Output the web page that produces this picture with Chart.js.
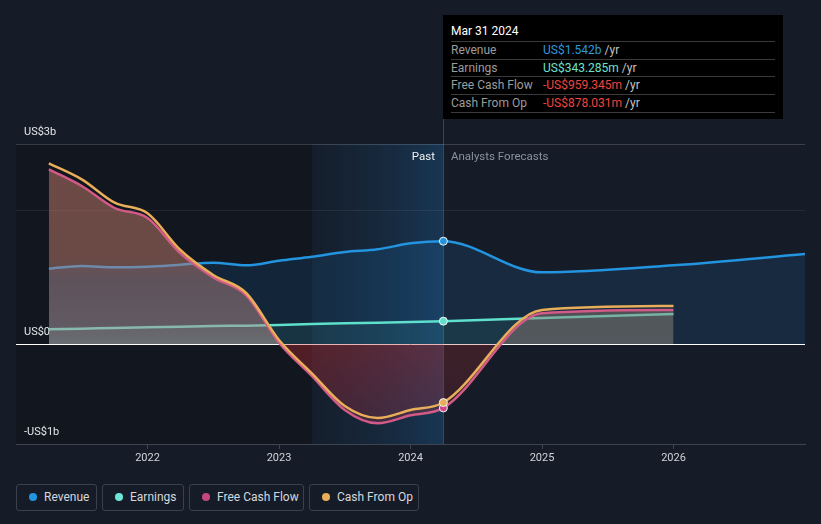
<!DOCTYPE html>
<html>
<head>
<meta charset="utf-8">
<script src="https://cdn.jsdelivr.net/npm/chart.js@4.4.1/dist/chart.umd.min.js"></script>
<style>
  body { margin: 0; background: #161c27; font-family: Roboto, "Noto Sans", sans-serif; }
  #wrap { position: relative; width: 821px; height: 524px; overflow: hidden; }
  #chart { position: absolute; left: 0; top: 0; }
  .tip { position: absolute; left: 443px; top: 15px; width: 340px; height: 104px; background: #000; }
  .tip .title { position: absolute; left: 8px; top: 8px; font-size: 12px; line-height: 16px; color: #fff; }
  .tip .row { position: absolute; left: 8px; width: 324px; height: 17px; border-top: 1px solid #3a3a3a; font-size: 12px; line-height: 17px; color: #9c9c9c; }
  .tip .row.last { border-bottom: 1px solid #3a3a3a; }
  .tip .row span.v { position: absolute; left: 92px; }
  .tip .row span.u { color: #c4c4c4; }
  .period { position: absolute; top: 148px; font-size: 11.5px; line-height: 16px; }
  .legend { position: absolute; left: 16px; top: 484px; display: flex; gap: 5px; }
  .legend div { box-sizing: border-box; height: 27px; border: 1px solid #3a404c; border-radius: 3px; font-size: 12px; line-height: 25px; color: #d4d8de; padding-left: 27px; position: relative; }
  .legend div i { position: absolute; left: 12px; top: 8px; width: 8px; height: 8px; border-radius: 50%; }
</style>
</head>
<body>
<div id="wrap">
  <canvas id="chart" width="821" height="475"></canvas>
  <div class="period" style="right:386px;color:#eef0f2;">Past</div>
  <div class="period" style="left:451px;color:#8b929c;">Analysts Forecasts</div>
  <div class="tip">
    <div class="title">Mar 31 2024</div>
    <div class="row" style="top:26px;">Revenue<span class="v"><span style="color:#2b98de;">US$1.542b</span> <span class="u">/yr</span></span></div>
    <div class="row" style="top:43.5px;">Earnings<span class="v"><span style="color:#6fe2cd;">US$343.285m</span> <span class="u">/yr</span></span></div>
    <div class="row" style="top:61px;">Free Cash Flow<span class="v"><span style="color:#f0443f;">-US$959.345m</span> <span class="u">/yr</span></span></div>
    <div class="row last" style="top:78.5px;">Cash From Op<span class="v"><span style="color:#f0443f;">-US$878.031m</span> <span class="u">/yr</span></span></div>
  </div>
  <div class="legend">
    <div style="width:81px;"><i style="background:#2394df;"></i>Revenue</div>
    <div style="width:82px;"><i style="background:#6ee6d5;"></i>Earnings</div>
    <div style="width:115px;"><i style="background:#c4487f;"></i>Free Cash Flow</div>
    <div style="width:110px;"><i style="background:#e8ae5a;"></i>Cash From Op</div>
  </div>
</div>
<script>
// values in US$ billions, dates as decimal years
const pastDates = [2021.25, 2021.5, 2021.75, 2022, 2022.25, 2022.5, 2022.75, 2023, 2023.25, 2023.5, 2023.75, 2024, 2024.25];
const forecastDates = [2025, 2026];
const revenueForecastDates = [2025, 2026, 2027];

const revenuePast = [1.13, 1.17, 1.15, 1.16, 1.19, 1.22, 1.18, 1.25, 1.31, 1.38, 1.42, 1.51, 1.542];
const revenueForecast = [1.075, 1.18, 1.35];
const earningsPast = [0.22, 0.23, 0.24, 0.25, 0.26, 0.27, 0.275, 0.285, 0.30, 0.31, 0.32, 0.33, 0.343];
const earningsForecast = [0.39, 0.45];
const fcfPast = [2.62, 2.37, 2.04, 1.89, 1.36, 1.0, 0.73, 0.02, -0.48, -0.99, -1.19, -1.07, -0.959];
const fcfForecast = [0.46, 0.51];
const cfoPast = [2.71, 2.47, 2.12, 1.96, 1.41, 1.035, 0.765, 0.06, -0.44, -0.93, -1.11, -0.99, -0.878];
const cfoForecast = [0.51, 0.57];

const yearTicks = [2022, 2023, 2024, 2025, 2026];
const yTickValues = [-1.5, 0, 2, 3];
const yTickLabels = ['-US$1b', 'US$0', '', 'US$3b'];

const pastStart = 2023.25;   // start of the highlighted "Past" band
const latest = 2024.25;      // Mar 31 2024
const tipBottom = 119;

function toPoints(dates, vals) {
  return dates.map((d, i) => ({ x: d, y: vals[i] }));
}

function vGrad(chart, stops) {
  const { ctx, chartArea, scales } = chart;
  if (!chartArea || !scales.y) return stops[0][1];
  const y = scales.y;
  const t = y.getPixelForValue(y.max), b = y.getPixelForValue(y.min);
  const g = ctx.createLinearGradient(0, t, 0, b);
  stops.forEach(([v, c]) => g.addColorStop(Math.min(1, Math.max(0, (y.getPixelForValue(v) - t) / (b - t))), c));
  return g;
}

const pastFill = [
  [3, 'rgba(202,124,108,0.5)'], [1.3, 'rgba(196,126,110,0.5)'], [0.95, 'rgba(170,128,126,0.5)'],
  [0.3, 'rgba(176,142,140,0.5)'], [0, 'rgba(186,166,160,0.5)'],
  [0, 'rgba(200,45,50,0.36)'], [-1.5, 'rgba(190,50,80,0.22)']
];
const futureFill = [
  [3, 'rgba(150,122,108,0.45)'], [0, 'rgba(150,126,116,0.45)'],
  [0, 'rgba(175,45,50,0.26)'], [-1.5, 'rgba(175,45,50,0.16)']
];

const markerRadius = ctx => (ctx.raw && ctx.raw.x === latest ? 4 : 0);

const backdrop = {
  id: 'backdrop',
  beforeDraw(chart) {
    const { ctx, chartArea: a, scales: { x } } = chart;
    const xs = x.getPixelForValue(pastStart), xl = x.getPixelForValue(latest);
    ctx.save();
    ctx.fillStyle = 'rgba(0,0,0,0.2)';
    ctx.fillRect(a.left, a.top, xs - a.left, a.bottom - a.top);
    const g = ctx.createLinearGradient(xs, 0, xl, 0);
    g.addColorStop(0, 'rgba(20,90,150,0.04)');
    g.addColorStop(1, 'rgba(30,125,200,0.27)');
    ctx.fillStyle = g;
    ctx.fillRect(xs, a.top, xl - xs, a.bottom - a.top);
    ctx.restore();
  },
  beforeDatasetsDraw(chart) {
    const { ctx, chartArea: a, scales: { x } } = chart;
    const xl = Math.round(x.getPixelForValue(latest)) + 0.5;
    ctx.save();
    ctx.strokeStyle = 'rgba(120,140,165,0.35)';
    ctx.lineWidth = 1;
    ctx.beginPath();
    ctx.moveTo(xl, tipBottom);
    ctx.lineTo(xl, a.bottom);
    ctx.stroke();
    ctx.restore();
  }
};

new Chart(document.getElementById('chart'), {
  type: 'line',
  data: {
    datasets: [
      {
        label: 'Cash From Op',
        data: toPoints(pastDates.concat(forecastDates), cfoPast.concat(cfoForecast)),
        borderColor: '#e8ae5a',
        borderWidth: 2.5,
        fill: false,
        pointRadius: markerRadius,
        pointBackgroundColor: '#e8ae5a',
        pointBorderColor: '#f4f4f4',
        pointBorderWidth: 1,
        order: 0
      },
      {
        label: 'Free Cash Flow',
        data: toPoints(pastDates.concat(forecastDates), fcfPast.concat(fcfForecast)),
        borderColor: '#d25a86',
        borderWidth: 2.5,
        fill: 'origin',
        backgroundColor: ctx => vGrad(ctx.chart, pastFill),
        segment: {
          backgroundColor: ctx => (ctx.p0.parsed.x >= latest ? vGrad(ctx.chart, futureFill) : undefined)
        },
        pointRadius: markerRadius,
        pointBackgroundColor: '#c8488a',
        pointBorderColor: '#f4f4f4',
        pointBorderWidth: 1,
        order: 1
      },
      {
        label: 'Earnings',
        data: toPoints(pastDates.concat(forecastDates), earningsPast.concat(earningsForecast)),
        borderColor: '#5ee0cc',
        borderWidth: 2.5,
        fill: 'origin',
        backgroundColor: 'rgba(94,224,204,0.08)',
        pointRadius: markerRadius,
        pointBackgroundColor: '#5ee0cc',
        pointBorderColor: '#f4f4f4',
        pointBorderWidth: 1,
        order: 2
      },
      {
        label: 'Revenue',
        data: toPoints(pastDates.concat(revenueForecastDates), revenuePast.concat(revenueForecast)),
        borderColor: '#2394df',
        borderWidth: 2.5,
        fill: 'origin',
        backgroundColor: 'rgba(35,150,235,0.12)',
        pointRadius: markerRadius,
        pointBackgroundColor: '#2394df',
        pointBorderColor: '#f4f4f4',
        pointBorderWidth: 1,
        order: 3
      }
    ]
  },
  options: {
    responsive: false,
    animation: false,
    devicePixelRatio: 1,
    layout: { padding: { top: 144, right: 16, left: 0, bottom: 0 } },
    elements: { line: { cubicInterpolationMode: 'monotone', tension: 0.4 } },
    plugins: { legend: { display: false }, tooltip: { enabled: false } },
    events: [],
    scales: {
      x: {
        type: 'linear',
        min: 2021,
        max: 2027,
        afterBuildTicks: s => { s.ticks = yearTicks.map(v => ({ value: v })); },
        afterFit: s => { s.height = 31; },
        border: { color: '#3d4350', width: 1 },
        grid: { drawOnChartArea: false, color: '#3d4350', tickLength: 5 },
        ticks: {
          color: '#d0d4da',
          font: { family: 'Roboto', size: 11 },
          padding: 3,
          maxRotation: 0,
          autoSkip: false,
          callback: v => String(v)
        }
      },
      y: {
        min: -1.5,
        max: 3,
        afterBuildTicks: s => { s.ticks = yTickValues.map(v => ({ value: v })); },
        afterFit: s => { s.width = 16; },
        border: { display: false },
        grid: {
          drawTicks: false,
          color: c => {
            const v = c.tick ? c.tick.value : null;
            if (v === 0) return '#ffffff';
            if (v === 3) return 'rgba(255,255,255,0.16)';
            if (v === 2) return 'rgba(255,255,255,0.07)';
            return 'rgba(0,0,0,0)';
          }
        },
        ticks: {
          mirror: true,
          padding: 8,
          labelOffset: -12,
          color: '#e3e6ea',
          font: { family: 'Roboto', size: 11 },
          callback: v => yTickLabels[yTickValues.indexOf(v)]
        }
      }
    }
  },
  plugins: [backdrop]
});
</script>
</body>
</html>
